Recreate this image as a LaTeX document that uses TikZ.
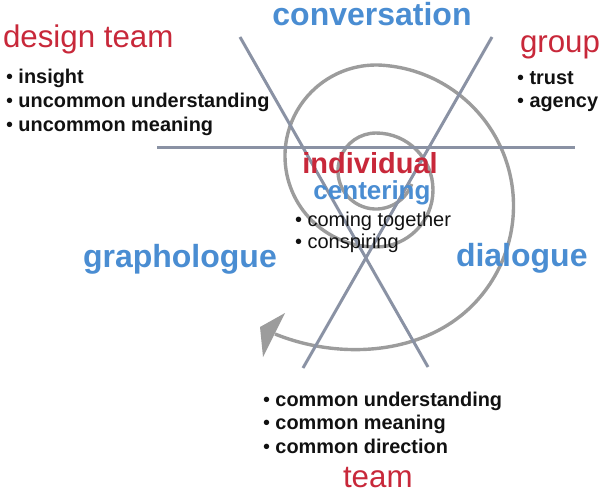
\documentclass[tikz,border=0pt]{standalone}
\usepackage{fontspec}
\setmainfont{Liberation Sans}
\definecolor{tred}{HTML}{C8283A}
\definecolor{tblue}{HTML}{4A8DD2}
\definecolor{lineg}{HTML}{8A92A4}
\definecolor{spig}{HTML}{9C9C9C}
\definecolor{tblack}{HTML}{111111}
\begin{document}
\begin{tikzpicture}[x=1pt,y=1pt,
  every node/.style={inner sep=0pt, outer sep=0pt},
  rtitle/.style={font=\fontsize{31.3}{37}\selectfont, text=tred, anchor=base west},
  btitle/.style={font=\fontsize{32}{38}\selectfont\bfseries, text=tblue, anchor=base west},
  bitem/.style={font=\fontsize{19.9}{24}\selectfont\bfseries, text=tblack, anchor=base west},
  citem/.style={font=\fontsize{20}{22}\selectfont, text=tblack, anchor=base west},
  axisline/.style={draw=lineg, line width=3pt},
  spiralline/.style={draw=spig, line width=3.4pt}]
\useasboundingbox (0,0) rectangle (600,-493);

% spiral
\coordinate (s0) at (411.7,-184);
\coordinate (sEnd) at (275,-334);
\draw[spiralline] (s0) arc[start angle=-20, end angle=-270, radius=38]
  arc[start angle=90, end angle=-90, radius=57]
  arc[start angle=-90, end angle=-274, radius=91]
  arc[start angle=86, end angle=-45, radius=141]
  .. controls +(-135:70) and +(-22:70) .. (sEnd);
\coordinate (ah1) at (285,-313);
\coordinate (ah2) at (260,-327);
\coordinate (ah3) at (263,-357);
\fill[spig] (ah1) -- (ah2) -- (ah3) -- cycle;

% lines
\coordinate (ha) at (157,-147); \coordinate (hb) at (575,-147);
\coordinate (l1a) at (240,-37); \coordinate (l1b) at (428,-367);
\coordinate (l2a) at (492,-37); \coordinate (l2b) at (303,-368);
\draw[axisline] (ha) -- (hb);
\draw[axisline] (l1a) -- (l1b);
\draw[axisline] (l2a) -- (l2b);

% titles
\node[btitle, anchor=base] (conv) at (372,-25) {conversation};
\node[rtitle] (design) at (3,-47) {design team};
\node[rtitle] (group) at (520,-52) {group};
\node[rtitle] (team) at (343,-487) {team};
\node[btitle] (grapho) at (83,-267) {graphologue};
\node[btitle] (dialog) at (456,-266) {dialogue};
\node[font=\fontsize{29}{34}\selectfont\bfseries, text=tred, anchor=base] (indiv) at (370,-173.5) {individual};
\node[font=\fontsize{26}{30}\selectfont\bfseries, text=tblue, anchor=base] (center) at (372,-199.5) {centering};

% lists
\node[bitem] (d1) at (6,-83) {{\mdseries •} insight};
\node[bitem] (d2) at (6,-107) {{\mdseries •} uncommon understanding};
\node[bitem] (d3) at (6,-131) {{\mdseries •} uncommon meaning};
\node[bitem] (g1) at (517,-84) {{\mdseries •} trust};
\node[bitem] (g2) at (517,-107) {{\mdseries •} agency};
\node[bitem] (t1) at (263,-406) {{\mdseries •} common understanding};
\node[bitem] (t2) at (263,-429.5) {{\mdseries •} common meaning};
\node[bitem] (t3) at (263,-453) {{\mdseries •} common direction};
\node[citem] (c1) at (295,-226) {• coming together};
\node[citem] (c2) at (295,-248) {• conspiring};
\end{tikzpicture}
\end{document}
